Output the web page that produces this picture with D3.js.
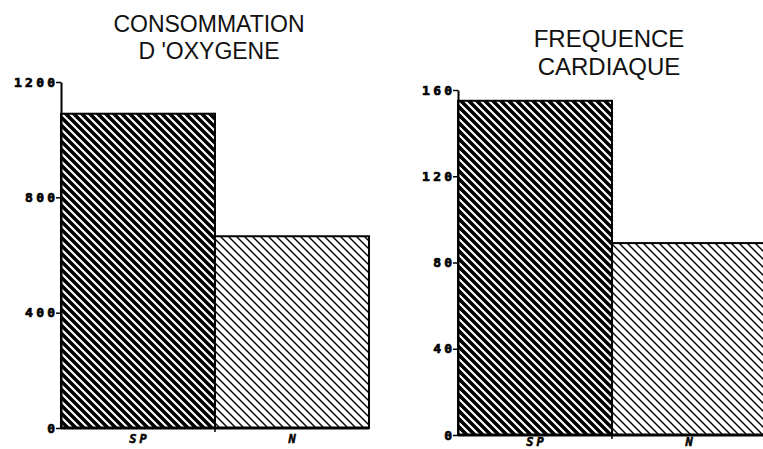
<!DOCTYPE html>
<html><head><meta charset="utf-8">
<script src="https://cdn.jsdelivr.net/npm/d3@7"></script>
<style>body{margin:0;background:#fff;overflow:hidden}</style></head>
<body><svg id="c" width="763" height="449"></svg>
<script>
const categories = ["SP", "N"];
const oxygenValues = [1090, 665];
const heartValues = [155, 89];
const oxygenTicks = [0, 400, 800, 1200];
const heartTicks = [0, 40, 80, 120, 160];
const oxygenTitle = ["CONSOMMATION", "D 'OXYGENE"];
const heartTitle = ["FREQUENCE", "CARDIAQUE"];

const svg = d3.select("#c");
svg.append("rect").attr("width", 763).attr("height", 449).attr("fill", "#fff");

const defs = svg.append("defs");
function hatch(id, sw) {
  const p = defs.append("pattern").attr("id", id).attr("patternUnits", "userSpaceOnUse")
    .attr("width", 8).attr("height", 8);
  p.append("rect").attr("width", 8).attr("height", 8).attr("fill", "#fff");
  p.append("path").attr("d", "M-2,-2L10,10M-2,6L2,10M6,-2L10,2")
    .attr("stroke", "#000").attr("stroke-width", sw).attr("fill", "none");
}
hatch("hatchDark", 3.6);
hatch("hatchLight", 1.4);
const fills = ["url(#hatchDark)", "url(#hatchLight)"];

const panels = [
  {values: oxygenValues, ticks: oxygenTicks, title: oxygenTitle, x0: 61, x1: 369, yb: 428, yt: 82,
   tx: 209, ty: [32, 59], tsize: 23, catOff: 15},
  {values: heartValues, ticks: heartTicks, title: heartTitle, x0: 458, x1: 766, yb: 435, yt: 90,
   tx: 609, ty: [47, 75], tsize: 24, catOff: 11}
];

const LS = 3.2;
panels.forEach(p => {
  const x = d3.scaleBand().domain(categories).range([p.x0, p.x1]).padding(0);
  const y = d3.scaleLinear().domain([0, d3.max(p.ticks)]).range([p.yb, p.yt]);
  const g = svg.append("g");

  // title
  g.selectAll("text.title").data(p.title).join("text")
    .attr("x", p.tx).attr("y", (d, i) => p.ty[i])
    .attr("text-anchor", "middle")
    .attr("font-family", "Liberation Sans, Arial, sans-serif")
    .attr("font-size", p.tsize)
    .attr("fill", "#111")
    .text(d => d);

  // bars
  g.selectAll("rect.bar").data(p.values).join("rect")
    .attr("x", (d, i) => x(categories[i]))
    .attr("y", d => y(d))
    .attr("width", x.bandwidth())
    .attr("height", d => y(0) - y(d))
    .attr("fill", (d, i) => fills[i])
    .attr("stroke", "#000").attr("stroke-width", 2);

  // y axis
  const ax = g.append("g").attr("transform", `translate(${p.x0},0)`)
    .call(d3.axisLeft(y).tickValues(p.ticks).tickSize(5).tickSizeOuter(0).tickFormat(d3.format("d")));
  ax.select(".domain").attr("stroke", "#000").attr("stroke-width", 2);
  ax.selectAll(".tick line").attr("stroke", "#000").attr("stroke-width", 1.5);
  ax.selectAll(".tick text")
    .attr("x", -6 + LS)
    .attr("font-family", "DejaVu Sans Mono, monospace")
    .attr("font-weight", "bold").attr("font-size", 13)
    .attr("letter-spacing", LS)
    .attr("stroke", "#000").attr("stroke-width", 0.7)
    .attr("fill", "#000");

  // baseline and category labels
  g.append("line").attr("x1", p.x0).attr("x2", p.x1).attr("y1", y(0)).attr("y2", y(0))
    .attr("stroke", "#000").attr("stroke-width", 3);
  g.append("line").attr("x1", x("N")).attr("x2", x("N")).attr("y1", y(0)).attr("y2", y(0) + 4)
    .attr("stroke", "#000").attr("stroke-width", 1.5);
  g.selectAll("text.cat").data(categories).join("text")
    .attr("x", d => x(d) + x.bandwidth() / 2 + 1.5)
    .attr("y", y(0) + p.catOff)
    .attr("text-anchor", "middle")
    .attr("font-family", "DejaVu Sans Mono, monospace")
    .attr("font-weight", "bold").attr("font-size", 12)
    .attr("font-style", "italic")
    .attr("letter-spacing", 3)
    .attr("stroke", "#000").attr("stroke-width", 0.5)
    .attr("fill", "#000")
    .text(d => d);
});
</script></body></html>
